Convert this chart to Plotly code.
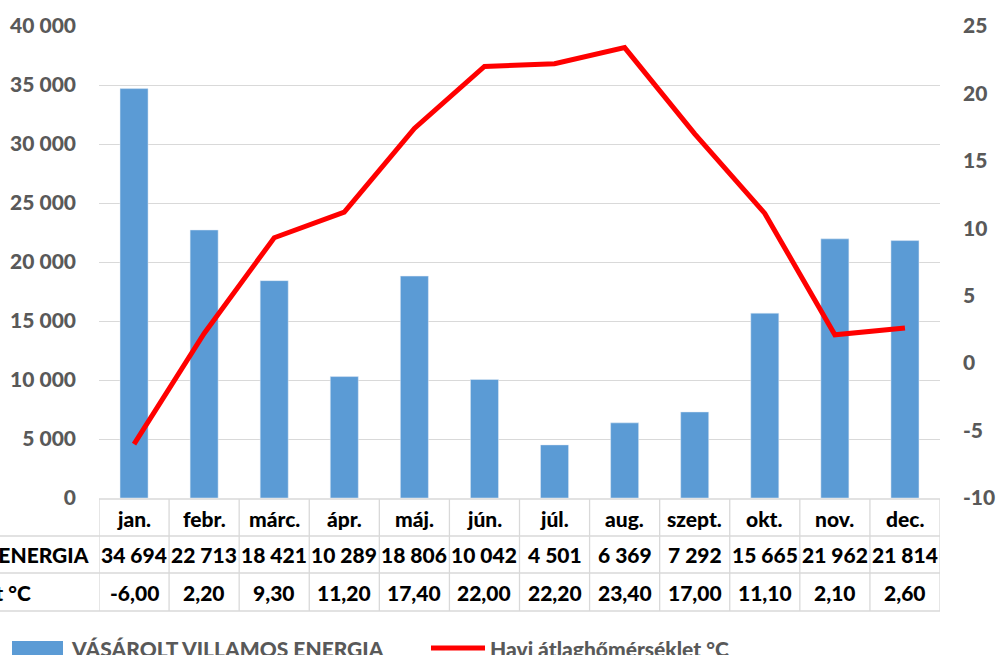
import plotly.graph_objects as go

months = ["jan.", "febr.", "márc.", "ápr.", "máj.", "jún.", "júl.", "aug.", "szept.", "okt.", "nov.", "dec."]
energy = [34694, 22713, 18421, 10289, 18806, 10042, 4501, 6369, 7292, 15665, 21962, 21814]
temps = [-6.00, 2.20, 9.30, 11.20, 17.40, 22.00, 22.20, 23.40, 17.00, 11.10, 2.10, 2.60]
energy_name = "VÁSÁROLT VILLAMOS ENERGIA"
temp_name = "Havi átlaghőmérséklet °C"
y2_ticks = [-10, -5, 0, 5, 10, 15, 20, 25]
y2_text = ["-10", "-5", "0", "5", "10", "15", "20", "25"]

W, H = 996, 655
L, R, T, B = 99, 940, 26, 498
FONT = "Lato"
WEIGHT = 900
AX_COLOR = "#595959"
GRID = "#D9D9D9"
BLUE = "#5B9BD5"
RED = "#FF0000"

def py(p):  # pixel y -> paper y
    return (B - p) / (B - T)

def px(p):  # pixel x -> paper x
    return (p - L) / (R - L)

def fmt_energy(v):
    return f"{v:,}".replace(",", " ")

def fmt_temp(v):
    return f"{v:.2f}".replace(".", ",")

fig = go.Figure()
fig.add_trace(go.Bar(x=months, y=energy, name=energy_name, marker_color=BLUE,
                     showlegend=False))
fig.add_trace(go.Scatter(x=months, y=temps, name=temp_name, yaxis="y2", mode="lines",
                         line=dict(color=RED, width=5), showlegend=False))

shapes = []
annotations = []
row_edges = [499, 536, 573, 611]
# horizontal table lines
shapes.append(dict(type="line", xref="paper", yref="paper", x0=0, x1=1,
                   y0=py(row_edges[0]), y1=py(row_edges[0]), line=dict(color=GRID, width=1.3)))
for e in row_edges[1:]:
    shapes.append(dict(type="line", xref="paper", yref="paper", x0=px(0), x1=1,
                       y0=py(e), y1=py(e), line=dict(color=GRID, width=1.3)))
# vertical table lines
for i in range(len(months) + 1):
    shapes.append(dict(type="line", xref="x", yref="paper", x0=i - 0.5, x1=i - 0.5,
                       y0=py(row_edges[0]), y1=py(row_edges[-1]), line=dict(color=GRID, width=1.3)))

row_centers = [518, 554, 592]
cell_font = dict(family=FONT, size=21, color="#000000", weight=WEIGHT)
for i, m in enumerate(months):
    annotations.append(dict(x=m, xref="x", yref="paper", y=py(row_centers[0]), text=m,
                            showarrow=False, font=cell_font, xanchor="center", yanchor="middle"))
    annotations.append(dict(x=m, xref="x", yref="paper", y=py(row_centers[1]), text=fmt_energy(energy[i]),
                            showarrow=False, font=cell_font, xanchor="center", yanchor="middle"))
    annotations.append(dict(x=m, xref="x", yref="paper", y=py(row_centers[2]), text=fmt_temp(temps[i]),
                            showarrow=False, font=cell_font, xanchor="center", yanchor="middle"))
# row labels (cut off at the left edge, as in the reference)
annotations.append(dict(x=px(91), xref="paper", yref="paper", y=py(row_centers[1]), text=energy_name,
                        showarrow=False, font=cell_font, xanchor="right", yanchor="middle"))
annotations.append(dict(x=px(33), xref="paper", yref="paper", y=py(row_centers[2]), text=temp_name,
                        showarrow=False, font=cell_font, xanchor="right", yanchor="middle"))

# legend (bottom, partly cut off)
leg_font = dict(family=FONT, size=21, color=AX_COLOR, weight=WEIGHT)
leg_y = 648
shapes.append(dict(type="rect", xref="paper", yref="paper", x0=px(12), x1=px(63),
                   y0=py(641), y1=py(662), fillcolor=BLUE, line=dict(width=0)))
annotations.append(dict(x=px(69), xref="paper", yref="paper", y=py(leg_y), text=energy_name,
                        showarrow=False, font=leg_font, xanchor="left", yanchor="middle"))
shapes.append(dict(type="line", xref="paper", yref="paper", x0=px(431), x1=px(485),
                   y0=py(leg_y), y1=py(leg_y), line=dict(color=RED, width=5)))
annotations.append(dict(x=px(488), xref="paper", yref="paper", y=py(leg_y), text=temp_name,
                        showarrow=False, font=leg_font, xanchor="left", yanchor="middle"))

tick_font = dict(family=FONT, size=21, color=AX_COLOR, weight=WEIGHT)
fig.update_layout(
    width=W, height=H,
    margin=dict(l=L, r=W - R, t=T, b=H - B, pad=0, autoexpand=False),
    paper_bgcolor="white", plot_bgcolor="white",
    separators=", ",
    bargap=0.6,
    font=dict(family=FONT, size=21, color=AX_COLOR),
    shapes=shapes, annotations=annotations,
    xaxis=dict(type="category", range=[-0.5, 11.5], showticklabels=False, ticks="",
               showgrid=False, zeroline=False, showline=False, fixedrange=True, automargin=False),
    yaxis=dict(range=[0, 40000], dtick=5000, tickformat=",d", showgrid=True, gridcolor=GRID,
               gridwidth=1.3, zeroline=False, showline=False, ticks="", automargin=False,
               ticklabelstandoff=22, tickfont=tick_font),
    yaxis2=dict(range=[-10, 25], tickvals=y2_ticks, ticktext=y2_text, overlaying="y", side="right",
                showgrid=False, zeroline=False, showline=False, ticks="", ticklabelstandoff=22,
                automargin=False, tickfont=tick_font),
)

fig.write_html("out.html", config={"displayModeBar": False},
               post_script="document.body.style.margin='0';document.body.style.overflow='hidden';")
